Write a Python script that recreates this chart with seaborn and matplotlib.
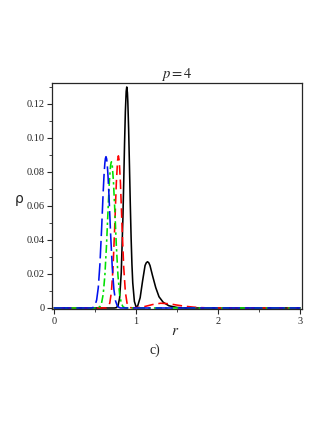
import matplotlib
matplotlib.use("Agg")
from matplotlib import pyplot as plt
from matplotlib.ticker import MultipleLocator
import seaborn as sns

# values (r, rho)
black_r = [0.0, 0.74, 0.76, 0.78, 0.80, 0.82, 0.84, 0.85, 0.86, 0.87, 0.88, 0.887, 0.895,
           0.90, 0.91, 0.92, 0.93, 0.94, 0.95, 0.96, 0.98, 1.00, 1.02, 1.05, 1.08, 1.11,
           1.125, 1.14, 1.155, 1.17, 1.20, 1.24, 1.28, 1.33, 1.40, 1.50, 1.60, 3.0]
black_rho = [0.0, 0.0, 0.0002, 0.0012, 0.0059, 0.0208, 0.0528, 0.0743, 0.0966, 0.1155,
             0.1274, 0.1300, 0.1266, 0.1213, 0.1048, 0.0834, 0.0611, 0.0413, 0.0257,
             0.0148, 0.0038, 0.0007, 0.0012, 0.0060, 0.0160, 0.0250, 0.0266, 0.0272,
             0.0266, 0.0250, 0.0192, 0.0120, 0.0066, 0.0034, 0.0013, 0.0003, 0.0, 0.0]

red_r = [0.0, 0.64, 0.66, 0.68, 0.70, 0.72, 0.74, 0.76, 0.775, 0.785, 0.795, 0.81, 0.83,
         0.85, 0.87, 0.89, 0.91, 0.93, 0.96, 1.00, 1.10, 1.20, 1.30, 1.40, 1.50, 1.60,
         1.70, 1.80, 1.90, 3.0]
red_rho = [0.0, 0.0, 0.0007, 0.0029, 0.0094, 0.0239, 0.0475, 0.0736, 0.0867, 0.0895,
           0.0867, 0.0736, 0.0475, 0.0239, 0.0094, 0.0029, 0.0007, 0.0002, 0.0001,
           0.0002, 0.0008, 0.0020, 0.0028, 0.0025, 0.0017, 0.0010, 0.0005, 0.0002,
           0.0, 0.0]

green_r = [0.0, 0.52, 0.54, 0.56, 0.58, 0.60, 0.62, 0.64, 0.66, 0.675, 0.69, 0.70, 0.71,
           0.725, 0.74, 0.76, 0.78, 0.80, 0.82, 0.84, 0.86, 0.88, 3.0]
green_rho = [0.0, 0.0, 0.0002, 0.0008, 0.0029, 0.0081, 0.0190, 0.0367, 0.0589, 0.0742,
             0.0840, 0.0860, 0.0840, 0.0742, 0.0589, 0.0367, 0.0190, 0.0081, 0.0029,
             0.0008, 0.0002, 0.0, 0.0]

blue_r = [0.0, 0.46, 0.48, 0.50, 0.52, 0.54, 0.56, 0.58, 0.60, 0.61, 0.62, 0.627, 0.634,
          0.642, 0.65, 0.66, 0.67, 0.69, 0.71, 0.73, 0.75, 0.77, 0.79, 0.81, 3.0]
blue_rho = [0.0, 0.0, 0.0004, 0.0015, 0.0047, 0.0120, 0.0258, 0.0460, 0.0685, 0.0781,
            0.0852, 0.0880, 0.0890, 0.0877, 0.0840, 0.0764, 0.0664, 0.0438, 0.0241,
            0.0110, 0.0042, 0.0014, 0.0004, 0.0, 0.0]

y_ticks = [0, 0.02, 0.04, 0.06, 0.08, 0.10, 0.12]
y_labels = ["0", "0.02", "0.04", "0.06", "0.08", "0.10", "0.12"]
x_ticks = [0, 1, 2, 3]

sns.set_style("ticks")
plt.rcParams['font.family'] = ['Liberation Serif', 'DejaVu Serif']
plt.rcParams['mathtext.fontset'] = 'stix'

fig = plt.figure(figsize=(3.27, 4.23), dpi=100)
ax = fig.add_axes([0.159, 0.2695, 0.765, 0.5345])

lw = 1.15
sns.lineplot(x=black_r, y=black_rho, color="black", linewidth=lw, estimator=None,
             sort=False, ax=ax)
sns.lineplot(x=red_r, y=red_rho, color="red", linewidth=lw, estimator=None,
             sort=False, ax=ax, linestyle=(0, (6, 3)))
sns.lineplot(x=green_r, y=green_rho, color="#00e000", linewidth=lw, estimator=None,
             sort=False, ax=ax, linestyle=(0, (5, 2, 1.5, 2)))
sns.lineplot(x=blue_r, y=blue_rho, color="#0010ee", linewidth=lw, estimator=None,
             sort=False, ax=ax, linestyle=(0, (11, 3)))

ax.set_xlim(-0.024, 3.024)
ax.set_ylim(-0.0006, 0.1324)
ax.set_xticks(x_ticks)
ax.set_xticklabels([str(t) for t in x_ticks])
ax.set_yticks(y_ticks)
ax.set_yticklabels(y_labels)
ax.xaxis.set_minor_locator(MultipleLocator(0.5))
ax.yaxis.set_minor_locator(MultipleLocator(0.01))
ax.tick_params(which="major", length=3.5, width=0.8, labelsize=7.5, pad=2)
ax.tick_params(which="minor", length=2, width=0.6)
for s in ax.spines.values():
    s.set_visible(True)
    s.set_linewidth(0.9)

ax.set_xlabel("")
ax.set_ylabel("")
ax.set_title(r"$p = 4$", fontsize=10.5, pad=1.5)
fig.text(19 / 327, 1 - 199 / 423, "ρ", family="DejaVu Sans", fontsize=10,
         ha="center", va="center")
fig.text(175 / 327, 1 - 331 / 423, r"$r$", fontsize=11, ha="center", va="center")
fig.text(155 / 327, 1 - 350 / 423, "c)", fontsize=10, ha="center", va="center")

fig.savefig("out.png", dpi=100)
